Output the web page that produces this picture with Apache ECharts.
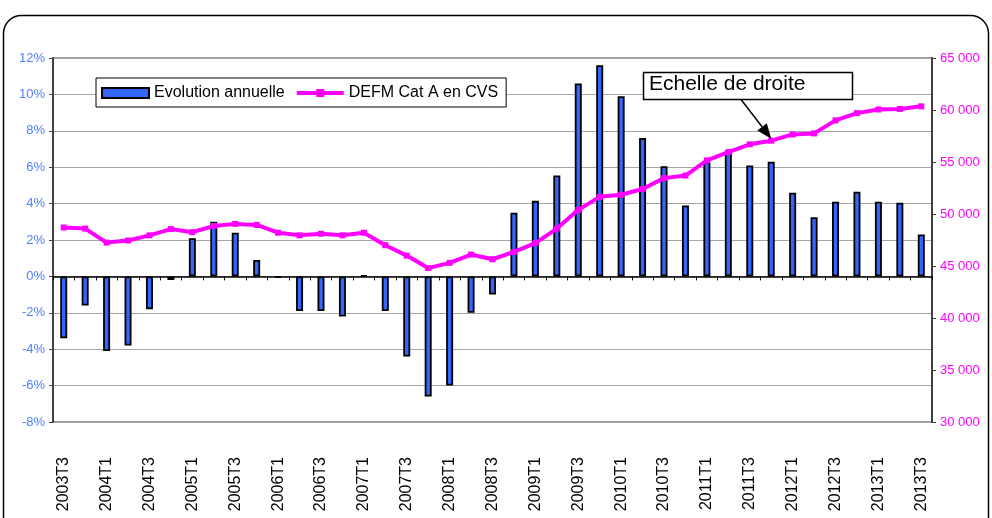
<!DOCTYPE html>
<html>
<head>
<meta charset="utf-8">
<script src="https://cdn.jsdelivr.net/npm/echarts@6/dist/echarts.min.js"></script>
<style>
  html, body { margin: 0; padding: 0; background: #fff; }
  #chart { width: 992px; height: 518px; }
</style>
</head>
<body>
<div id="chart"></div>
<script>
// trimestres
const quarters = [
  '2003T3','2003T4','2004T1','2004T2','2004T3','2004T4','2005T1','2005T2','2005T3','2005T4',
  '2006T1','2006T2','2006T3','2006T4','2007T1','2007T2','2007T3','2007T4','2008T1','2008T2',
  '2008T3','2008T4','2009T1','2009T2','2009T3','2009T4','2010T1','2010T2','2010T3','2010T4',
  '2011T1','2011T2','2011T3','2011T4','2012T1','2012T2','2012T3','2012T4','2013T1','2013T2',
  '2013T3'
];
// évolution annuelle (%)
const evolution = [
  -3.4, -1.6, -4.1, -3.8, -1.8, -0.2, 2.1, 3.0, 2.4, 0.9,
  -0.07, -1.9, -1.9, -2.2, 0.05, -1.9, -4.4, -6.6, -6.0, -2.0,
  -1.0, 3.5, 4.15, 5.55, 10.6, 11.6, 9.9, 7.6, 6.05, 3.9,
  6.3, 6.9, 6.1, 6.3, 4.6, 3.25, 4.1, 4.65, 4.1, 4.05,
  2.3
];
// DEFM Cat A en CVS (échelle de droite)
const defm = [
  48700, 48600, 47250, 47450, 47950, 48550, 48250, 48850, 49050, 48950,
  48200, 47950, 48100, 47950, 48200, 47000, 46000, 44800, 45300, 46100,
  45650, 46350, 47200, 48600, 50400, 51650, 51850, 52400, 53450, 53700,
  55150, 55950, 56700, 57050, 57650, 57750, 59000, 59700, 60050, 60100,
  60350
];
const leftTicks = { min: -8, max: 12, step: 2 };
const rightTicks = { min: 30000, max: 65000, step: 5000 };

const FONT = '"Liberation Sans", Arial, sans-serif';
const BLUE = '#3366ff';
const PINK = '#ff00ff';

const chart = echarts.init(document.getElementById('chart'));

function fmtThousands(v) {
  return String(v).replace(/\B(?=(\d{3})+(?!\d))/g, ' ');
}

chart.setOption({
  animation: false,
  textStyle: { fontFamily: FONT },
  grid: {
    left: 53, right: 60, top: 58, bottom: 96,
    containLabel: false,
    outerBoundsMode: 'none',
    show: true, borderColor: '#808080', borderWidth: 1.5
  },
  legend: {
    left: 96, top: 78,
    padding: [7, 8, 6, 5],
    itemGap: 10,
    itemWidth: 47, itemHeight: 10,
    backgroundColor: '#fff',
    borderColor: '#000', borderWidth: 1, borderRadius: 0,
    textStyle: { fontSize: 16, color: '#000', fontFamily: FONT },
    data: [
      { name: 'Evolution annuelle', icon: 'rect' },
      { name: 'DEFM Cat A en CVS', lineStyle: { width: 4 } }
    ]
  },
  xAxis: {
    type: 'category',
    data: quarters,
    boundaryGap: true,
    axisLine: { onZero: true, lineStyle: { color: '#000', width: 1.5 } },
    axisTick: { show: true, interval: 0, length: 4, lineStyle: { color: '#000' } },
    axisLabel: {
      interval: 1, rotate: 90, margin: 35,
      fontSize: 16, color: '#000', fontFamily: FONT
    },
    splitLine: { show: false }
  },
  yAxis: [
    {
      type: 'value',
      min: leftTicks.min, max: leftTicks.max, interval: leftTicks.step,
      axisLine: { show: true, onZero: false, lineStyle: { color: '#404040', width: 2 } },
      axisTick: { show: true, length: 4, lineStyle: { color: '#404040' } },
      axisLabel: { formatter: '{value}%', fontSize: 13, color: '#5080ff', fontFamily: FONT, margin: 8 },
      splitLine: { show: true, lineStyle: { color: '#a6a6a6', width: 1 } }
    },
    {
      type: 'value',
      position: 'right',
      min: rightTicks.min, max: rightTicks.max, interval: rightTicks.step,
      axisLine: { show: true, onZero: false, lineStyle: { color: '#404040', width: 2 } },
      axisTick: { show: true, length: 4, lineStyle: { color: '#404040' } },
      axisLabel: { formatter: fmtThousands, fontSize: 13, color: PINK, fontFamily: FONT, margin: 8 },
      splitLine: { show: false }
    }
  ],
  series: [
    {
      name: 'Evolution annuelle',
      type: 'bar',
      yAxisIndex: 0,
      data: evolution,
      barWidth: 7,
      itemStyle: { color: BLUE, borderColor: '#000', borderWidth: 1.8 },
      z: 2
    },
    {
      name: 'DEFM Cat A en CVS',
      type: 'line',
      yAxisIndex: 1,
      data: defm,
      symbol: 'rect',
      symbolSize: 6,
      lineStyle: { color: PINK, width: 4 },
      itemStyle: { color: PINK },
      z: 3
    }
  ]
});

// annotation "Echelle de droite" pointant vers un point de la courbe
const tip = chart.convertToPixel({ seriesIndex: 1 }, [33, defm[33]]);
tip[1] -= 2;
const tail = [741, 99.5];
const ang = Math.atan2(tip[1] - tail[1], tip[0] - tail[0]);
const headLen = 15, headW = 6;
const base = [tip[0] - headLen * Math.cos(ang), tip[1] - headLen * Math.sin(ang)];
const nx = -Math.sin(ang), ny = Math.cos(ang);

chart.setOption({
  graphic: [
    {
      type: 'rect', silent: true, z: -10,
      shape: { x: 3.5, y: 15.5, width: 985, height: 520, r: 18 },
      style: { fill: 'none', stroke: '#000', lineWidth: 1.5 }
    },
    {
      type: 'line', silent: true, z: 100,
      shape: { x1: tail[0], y1: tail[1], x2: base[0], y2: base[1] },
      style: { stroke: '#000', lineWidth: 1.5 }
    },
    {
      type: 'polygon', silent: true, z: 100,
      shape: { points: [
        [tip[0], tip[1]],
        [base[0] + nx * headW, base[1] + ny * headW],
        [base[0] - nx * headW, base[1] - ny * headW]
      ] },
      style: { fill: '#000' }
    },
    {
      type: 'rect', silent: true, z: 100,
      shape: { x: 643.5, y: 72.5, width: 209, height: 27 },
      style: { fill: '#fff', stroke: '#000', lineWidth: 1.5 }
    },
    {
      type: 'text', silent: true, z: 101,
      left: 649, top: 74,
      style: { text: 'Echelle de droite', font: '21px ' + FONT, fill: '#000' }
    }
  ]
});
</script>
</body>
</html>
